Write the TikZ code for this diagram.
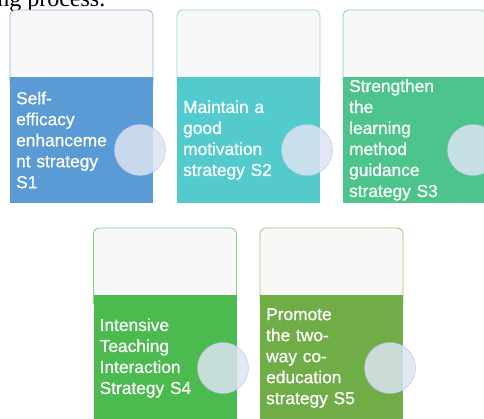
\documentclass[tikz,border=0pt]{standalone}
\usepackage{fontspec}
\setmainfont{Liberation Serif}
\setsansfont{Liberation Sans}
\newfontfamily\cardfont{Liberation Sans}[FakeBold=0.7]
\usepackage{tikz}
\usetikzlibrary{positioning}
\definecolor{topgray}{HTML}{F8F8F8}
\definecolor{blueS}{HTML}{5B9BD5}
\definecolor{blueL}{HTML}{8FB8E3}
\definecolor{tealS}{HTML}{53CBCD}
\definecolor{tealL}{HTML}{8ADADC}
\definecolor{mintS}{HTML}{4DC48C}
\definecolor{mintL}{HTML}{7FD4A8}
\definecolor{greenS}{HTML}{4BBA4F}
\definecolor{greenL}{HTML}{86D087}
\definecolor{oliveS}{HTML}{70AD47}
\definecolor{oliveL}{HTML}{9CC87F}
\definecolor{dotfill}{HTML}{DCE4F2}

\begin{document}
\begin{tikzpicture}[x=0.75pt,y=-0.75pt]
\tikzstyle{cardtop}=[rectangle, rounded corners=4pt, minimum width=107.25pt, minimum height=60pt, fill=topgray, line width=0.6pt]
\tikzstyle{cardbody}=[rectangle, minimum width=107.25pt, minimum height=94.5pt, text width=98pt, inner xsep=4.5pt, inner ysep=0pt, align=left, text=white, font=\cardfont\fontsize{13}{15.75}\selectfont]
\tikzstyle{dot}=[circle, minimum size=38.25pt, inner sep=0pt, fill=dotfill, fill opacity=0.85, draw=dotfill!85!blue, line width=0.3pt]
\clip (0,0) rectangle (484,418);

\node[anchor=base east, font=\fontsize{18}{20}\selectfont] (caption) at (110,6) {ng process.};

% first row
\node[cardtop, draw=blueL] (top1) at (81.5,50) {};
\node[cardbody, fill=blueS] (body1) at (81.5,140) {Self-\\efficacy\\enhanceme\\nt strategy\\S1};
\node[dot] (dot1) at (140,150) {};

\node[cardtop, draw=tealL] (top2) at (248.5,50) {};
\node[cardbody, fill=tealS] (body2) at (248.5,140) {Maintain a\\good\\motivation\\strategy S2};
\node[dot] (dot2) at (307,150) {};

\node[cardtop, draw=mintL] (top3) at (414.5,50) {};
\node[cardbody, fill=mintS] (body3) at (414.5,140) {Strengthen\\the\\learning\\method\\guidance\\strategy S3};
\node[dot] (dot3) at (473,150) {};

% second row
\node[cardtop, draw=greenL] (top4) at (165,268) {};
\node[cardbody, fill=greenS] (body4) at (165,358) {Intensive\\Teaching\\Interaction\\Strategy S4};
\node[dot] (dot4) at (223,368) {};

\node[cardtop, draw=oliveL] (top5) at (331.5,268) {};
\node[cardbody, fill=oliveS] (body5) at (331.5,358) {Promote\\the two-\\way co-\\education\\strategy S5};
\node[dot] (dot5) at (390,368) {};
\end{tikzpicture}
\end{document}
